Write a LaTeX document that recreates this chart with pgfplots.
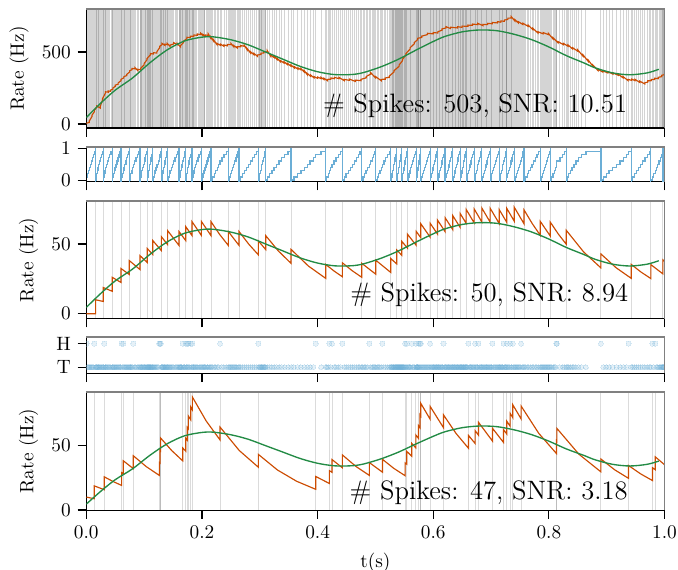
\documentclass[border=0pt]{standalone}
\usepackage{fontspec}
\usepackage{pgfplots}
\usepackage{pgfplotstable}
\pgfplotsset{compat=1.18}
\definecolor{cgreen}{RGB}{35,139,69}
\definecolor{cred}{RGB}{204,76,2}
\definecolor{cblue}{RGB}{107,174,214}
\newcommand{\annot}{\fontsize{13.8}{16}\selectfont}

% spike train: time, counter/10 (0 = output spike of the counter), coin (1 = H)
\pgfplotstableread[row sep=\\]{
t c h\\
0.0005 .1 1\\ 0.0021 .2 0\\ 0.0040 .3 0\\ 0.0052 .4 0\\ 0.0071 .5 0\\ 0.0089 .6 0\\ 0.0104 .7 0\\ 0.0122 .8 0\\ 0.0138 .9 1\\ 0.0161 0 0\\
0.0170 .1 0\\ 0.0178 .2 0\\ 0.0190 .3 0\\ 0.0204 .4 0\\ 0.0216 .5 0\\ 0.0231 .6 0\\ 0.0249 .7 0\\ 0.0262 .8 0\\ 0.0279 .9 0\\ 0.0294 0 0\\
0.0302 .1 0\\ 0.0311 .2 1\\ 0.0325 .3 0\\ 0.0338 .4 0\\ 0.0351 .5 0\\ 0.0370 .6 0\\ 0.0388 .7 0\\ 0.0401 .8 0\\ 0.0427 .9 0\\ 0.0450 0 0\\
0.0459 .1 0\\ 0.0474 .2 0\\ 0.0486 .3 0\\ 0.0497 .4 0\\ 0.0515 .5 0\\ 0.0531 .6 0\\ 0.0549 .7 0\\ 0.0566 .8 0\\ 0.0583 .9 0\\ 0.0600 0 0\\
0.0611 .1 1\\ 0.0626 .2 0\\ 0.0640 .3 1\\ 0.0652 .4 0\\ 0.0667 .5 0\\ 0.0685 .6 0\\ 0.0699 .7 0\\ 0.0713 .8 0\\ 0.0731 .9 0\\ 0.0744 0 0\\
0.0756 .1 0\\ 0.0770 .2 0\\ 0.0789 .3 0\\ 0.0801 .4 0\\ 0.0813 .5 1\\ 0.0839 .6 0\\ 0.0858 .7 0\\ 0.0880 .8 0\\ 0.0903 .9 0\\ 0.0928 0 0\\
0.0937 .1 0\\ 0.0949 .2 0\\ 0.0960 .3 0\\ 0.0974 .4 0\\ 0.0988 .5 0\\ 0.1001 .6 0\\ 0.1015 .7 0\\ 0.1029 .8 0\\ 0.1042 .9 0\\ 0.1055 0 0\\
0.1063 .1 0\\ 0.1071 .2 0\\ 0.1079 .3 0\\ 0.1088 .4 0\\ 0.1099 .5 0\\ 0.1108 .6 0\\ 0.1117 .7 0\\ 0.1128 .8 0\\ 0.1139 .9 0\\ 0.1148 0 0\\
0.1160 .1 0\\ 0.1174 .2 0\\ 0.1190 .3 0\\ 0.1206 .4 0\\ 0.1224 .5 0\\ 0.1244 .6 0\\ 0.1263 .7 1\\ 0.1275 .8 1\\ 0.1286 .9 1\\ 0.1298 0 0\\
0.1307 .1 0\\ 0.1318 .2 0\\ 0.1326 .3 0\\ 0.1337 .4 0\\ 0.1349 .5 0\\ 0.1360 .6 0\\ 0.1372 .7 0\\ 0.1384 .8 0\\ 0.1396 .9 0\\ 0.1407 0 0\\
0.1420 .1 0\\ 0.1437 .2 0\\ 0.1449 .3 0\\ 0.1468 .4 0\\ 0.1489 .5 0\\ 0.1511 .6 0\\ 0.1534 .7 0\\ 0.1559 .8 0\\ 0.1582 .9 0\\ 0.1603 0 0\\
0.1612 .1 0\\ 0.1622 .2 0\\ 0.1631 .3 0\\ 0.1643 .4 0\\ 0.1655 .5 0\\ 0.1667 .6 1\\ 0.1680 .7 0\\ 0.1693 .8 0\\ 0.1706 .9 0\\ 0.1719 0 1\\
0.1727 .1 0\\ 0.1738 .2 0\\ 0.1747 .3 1\\ 0.1756 .4 0\\ 0.1765 .5 1\\ 0.1776 .6 0\\ 0.1789 .7 0\\ 0.1805 .8 1\\ 0.1816 .9 0\\ 0.1828 0 0\\
0.1834 .1 1\\ 0.1849 .2 0\\ 0.1861 .3 0\\ 0.1877 .4 0\\ 0.1893 .5 0\\ 0.1912 .6 0\\ 0.1931 .7 0\\ 0.1950 .8 0\\ 0.1971 .9 0\\ 0.1990 0 0\\
0.2003 .1 0\\ 0.2019 .2 0\\ 0.2036 .3 0\\ 0.2051 .4 0\\ 0.2070 .5 0\\ 0.2088 .6 0\\ 0.2104 .7 0\\ 0.2122 .8 0\\ 0.2140 .9 0\\ 0.2157 0 0\\
0.2180 .1 0\\ 0.2211 .2 0\\ 0.2239 .3 0\\ 0.2268 .4 0\\ 0.2290 .5 0\\ 0.2313 .6 1\\ 0.2345 .7 0\\ 0.2381 .8 0\\ 0.2420 .9 0\\ 0.2457 0 0\\
0.2471 .1 0\\ 0.2490 .2 0\\ 0.2508 .3 0\\ 0.2525 .4 0\\ 0.2546 .5 0\\ 0.2564 .6 0\\ 0.2587 .7 0\\ 0.2606 .8 0\\ 0.2624 .9 0\\ 0.2641 0 0\\
0.2672 .1 0\\ 0.2703 .2 0\\ 0.2738 .3 0\\ 0.2771 .4 0\\ 0.2805 .5 0\\ 0.2842 .6 0\\ 0.2878 .7 0\\ 0.2910 .8 0\\ 0.2945 .9 0\\ 0.2976 0 1\\
0.2986 .1 0\\ 0.2999 .2 0\\ 0.3011 .3 0\\ 0.3024 .4 0\\ 0.3036 .5 0\\ 0.3050 .6 0\\ 0.3063 .7 0\\ 0.3078 .8 0\\ 0.3090 .9 0\\ 0.3103 0 0\\
0.3130 .1 0\\ 0.3172 .2 0\\ 0.3211 .3 0\\ 0.3248 .4 0\\ 0.3290 .5 0\\ 0.3334 .6 0\\ 0.3380 .7 0\\ 0.3433 .8 0\\ 0.3490 .9 0\\ 0.3541 0 0\\
0.3590 .1 0\\ 0.3655 .2 0\\ 0.3712 .3 0\\ 0.3770 .4 0\\ 0.3822 .5 0\\ 0.3870 .6 0\\ 0.3925 .7 0\\ 0.3968 .8 1\\ 0.4060 .9 0\\ 0.4141 0 0\\
0.4160 .1 0\\ 0.4183 .2 0\\ 0.4204 .3 1\\ 0.4228 .4 0\\ 0.4250 .5 1\\ 0.4285 .6 0\\ 0.4318 .7 0\\ 0.4356 .8 0\\ 0.4392 .9 0\\ 0.4429 0 1\\
0.4460 .1 0\\ 0.4492 .2 0\\ 0.4531 .3 0\\ 0.4567 .4 0\\ 0.4598 .5 0\\ 0.4636 .6 0\\ 0.4670 .7 0\\ 0.4702 .8 0\\ 0.4733 .9 0\\ 0.4764 0 0\\
0.4785 .1 0\\ 0.4810 .2 0\\ 0.4836 .3 0\\ 0.4864 .4 0\\ 0.4896 .5 1\\ 0.4919 .6 0\\ 0.4943 .7 0\\ 0.4965 .8 0\\ 0.4986 .9 0\\ 0.5006 0 0\\
0.5030 .1 0\\ 0.5055 .2 0\\ 0.5079 .3 0\\ 0.5100 .4 0\\ 0.5121 .5 1\\ 0.5148 .6 0\\ 0.5178 .7 0\\ 0.5207 .8 0\\ 0.5238 .9 0\\ 0.5265 0 0\\
0.5276 .1 0\\ 0.5286 .2 0\\ 0.5296 .3 0\\ 0.5307 .4 0\\ 0.5318 .5 0\\ 0.5328 .6 0\\ 0.5339 .7 0\\ 0.5349 .8 0\\ 0.5359 .9 0\\ 0.5369 0 0\\
0.5378 .1 0\\ 0.5387 .2 0\\ 0.5396 .3 0\\ 0.5404 .4 0\\ 0.5413 .5 0\\ 0.5421 .6 0\\ 0.5430 .7 0\\ 0.5439 .8 0\\ 0.5447 .9 0\\ 0.5456 0 0\\
0.5465 .1 0\\ 0.5474 .2 0\\ 0.5484 .3 0\\ 0.5494 .4 0\\ 0.5503 .5 0\\ 0.5513 .6 1\\ 0.5523 .7 0\\ 0.5532 .8 0\\ 0.5542 .9 1\\ 0.5554 0 0\\
0.5568 .1 0\\ 0.5581 .2 0\\ 0.5597 .3 0\\ 0.5612 .4 0\\ 0.5628 .5 1\\ 0.5643 .6 0\\ 0.5659 .7 0\\ 0.5678 .8 0\\ 0.5700 .9 1\\ 0.5704 0 0\\
0.5712 .1 0\\ 0.5720 .2 0\\ 0.5728 .3 0\\ 0.5736 .4 0\\ 0.5744 .5 1\\ 0.5752 .6 0\\ 0.5761 .7 0\\ 0.5770 .8 1\\ 0.5777 .9 0\\ 0.5784 0 1\\
0.5800 .1 0\\ 0.5817 .2 0\\ 0.5833 .3 0\\ 0.5851 .4 0\\ 0.5866 .5 0\\ 0.5882 .6 0\\ 0.5899 .7 0\\ 0.5914 .8 0\\ 0.5930 .9 0\\ 0.5946 0 1\\
0.5958 .1 0\\ 0.5971 .2 0\\ 0.5983 .3 0\\ 0.5996 .4 0\\ 0.6009 .5 0\\ 0.6022 .6 0\\ 0.6035 .7 0\\ 0.6048 .8 0\\ 0.6061 .9 0\\ 0.6073 0 0\\
0.6086 .1 0\\ 0.6099 .2 0\\ 0.6112 .3 0\\ 0.6125 .4 0\\ 0.6139 .5 0\\ 0.6152 .6 0\\ 0.6165 .7 0\\ 0.6177 .8 1\\ 0.6191 .9 0\\ 0.6205 0 0\\
0.6218 .1 0\\ 0.6232 .2 0\\ 0.6245 .3 0\\ 0.6258 .4 0\\ 0.6271 .5 0\\ 0.6285 .6 0\\ 0.6298 .7 0\\ 0.6312 .8 0\\ 0.6325 .9 0\\ 0.6338 0 0\\
0.6351 .1 0\\ 0.6364 .2 0\\ 0.6376 .3 0\\ 0.6389 .4 0\\ 0.6402 .5 0\\ 0.6414 .6 0\\ 0.6427 .7 0\\ 0.6440 .8 0\\ 0.6452 .9 0\\ 0.6465 0 0\\
0.6475 .1 0\\ 0.6486 .2 0\\ 0.6496 .3 0\\ 0.6507 .4 0\\ 0.6517 .5 0\\ 0.6528 .6 0\\ 0.6538 .7 0\\ 0.6549 .8 0\\ 0.6559 .9 0\\ 0.6569 0 0\\
0.6582 .1 0\\ 0.6596 .2 0\\ 0.6609 .3 1\\ 0.6623 .4 0\\ 0.6637 .5 0\\ 0.6651 .6 0\\ 0.6665 .7 0\\ 0.6679 .8 0\\ 0.6693 .9 0\\ 0.6707 0 0\\
0.6724 .1 1\\ 0.6736 .2 0\\ 0.6748 .3 0\\ 0.6760 .4 0\\ 0.6771 .5 0\\ 0.6782 .6 1\\ 0.6800 .7 0\\ 0.6813 .8 0\\ 0.6827 .9 0\\ 0.6840 0 0\\
0.6854 .1 0\\ 0.6869 .2 0\\ 0.6884 .3 0\\ 0.6899 .4 0\\ 0.6913 .5 0\\ 0.6928 .6 0\\ 0.6943 .7 0\\ 0.6957 .8 0\\ 0.6971 .9 0\\ 0.6984 0 0\\
0.7000 .1 0\\ 0.7012 .2 0\\ 0.7024 .3 1\\ 0.7040 .4 0\\ 0.7057 .5 0\\ 0.7073 .6 0\\ 0.7090 .7 0\\ 0.7107 .8 0\\ 0.7124 .9 0\\ 0.7140 0 0\\
0.7153 .1 0\\ 0.7166 .2 0\\ 0.7178 .3 0\\ 0.7191 .4 0\\ 0.7203 .5 0\\ 0.7215 .6 1\\ 0.7230 .7 0\\ 0.7243 .8 0\\ 0.7257 .9 0\\ 0.7270 0 0\\
0.7272 .1 1\\ 0.7286 .2 0\\ 0.7300 .3 0\\ 0.7315 .4 0\\ 0.7330 .5 1\\ 0.7345 .6 0\\ 0.7360 .7 0\\ 0.7376 .8 1\\ 0.7388 .9 0\\ 0.7400 0 0\\
0.7417 .1 0\\ 0.7434 .2 0\\ 0.7452 .3 0\\ 0.7469 .4 0\\ 0.7486 .5 0\\ 0.7503 .6 0\\ 0.7520 .7 1\\ 0.7537 .8 0\\ 0.7553 .9 0\\ 0.7570 0 0\\
0.7596 .1 0\\ 0.7624 .2 0\\ 0.7651 .3 0\\ 0.7680 .4 0\\ 0.7708 .5 0\\ 0.7737 .6 0\\ 0.7765 .7 0\\ 0.7793 .8 0\\ 0.7821 .9 0\\ 0.7849 0 0\\
0.7866 .1 0\\ 0.7884 .2 0\\ 0.7901 .3 0\\ 0.7919 .4 0\\ 0.7936 .5 0\\ 0.7953 .6 0\\ 0.7971 .7 0\\ 0.7988 .8 0\\ 0.8005 .9 0\\ 0.8022 0 0\\
0.8045 .1 0\\ 0.8071 .2 0\\ 0.8096 .3 0\\ 0.8115 .4 0\\ 0.8130 .5 1\\ 0.8137 .6 1\\ 0.8190 .7 0\\ 0.8240 .8 0\\ 0.8272 .9 0\\ 0.8299 0 0\\
0.8320 .1 0\\ 0.8345 .2 0\\ 0.8372 .3 0\\ 0.8401 .4 0\\ 0.8433 .5 0\\ 0.8468 .6 0\\ 0.8510 .7 0\\ 0.8560 .8 0\\ 0.8640 .9 0\\ 0.8899 0 1\\
0.8940 .1 0\\ 0.8990 .2 0\\ 0.9040 .3 0\\ 0.9100 .4 0\\ 0.9170 .5 0\\ 0.9230 .6 0\\ 0.9290 .7 0\\ 0.9340 .8 0\\ 0.9377 .9 1\\ 0.9423 0 0\\
0.9450 .1 0\\ 0.9480 .2 0\\ 0.9510 .3 0\\ 0.9545 .4 0\\ 0.9580 .5 0\\ 0.9620 .6 0\\ 0.9660 .7 0\\ 0.9700 .8 0\\ 0.9735 .9 0\\ 0.9763 0 0\\
0.9790 .1 1\\ 0.9812 .2 0\\ 0.9840 .3 1\\ 0.9862 .4 0\\ 0.9883 .5 0\\ 0.9904 .6 0\\ 0.9925 .7 0\\ 0.9944 .8 0\\ 0.9958 .9 0\\ 0.9971 0 0\\
0.9979 .1 0\\ 0.9986 .2 0\\ 0.9994 .3 0\\
}\spikes

% underlying rate (Hz/10 and Hz)
\pgfplotstableread{
t r r10
0.000 4.5 45
0.025 14.5 145
0.050 23.5 235
0.080 32 320
0.110 42.5 425
0.140 51.5 515
0.170 57.7 577
0.200 60.3 603
0.220 60.5 605
0.250 58.5 585
0.280 55 550
0.310 50 500
0.340 45 450
0.370 40 400
0.400 36.3 363
0.430 34.3 343
0.460 34.4 344
0.480 35.8 358
0.510 39.8 398
0.540 45 450
0.570 51.3 513
0.600 57.3 573
0.620 60.8 608
0.650 64 640
0.680 65.3 653
0.710 64.8 648
0.740 62.3 623
0.770 58.6 586
0.800 53.5 535
0.830 47.5 475
0.860 42.5 425
0.880 39 390
0.910 35.5 355
0.940 34.2 342
0.970 35.5 355
0.990 38 380
}\rate

\pgfplotsset{
  base/.style={
    scale only axis, width=299.6pt, xmin=0, xmax=1,
    anchor=north west,
    axis x line*=bottom, axis y line*=left,
    axis line style={line width=0.6pt, black},
    tick align=outside, major tick length=4.5pt,
    every tick/.style={black, line width=0.6pt},
    xtick={0,0.2,0.4,0.6,0.8,1},
    xticklabels={},
    clip marker paths=true,
    after end axis/.code={\draw[black!50, line width=0.9pt] (rel axis cs:0,1) -- (rel axis cs:1,1) -- (rel axis cs:1,0);},
  },
  spk/.style={only marks, mark=|, mark size=200pt, mark options={draw=black, draw opacity=#1, line width=0.45pt}},
}

\begin{document}
\begin{tikzpicture}
\useasboundingbox (-44.71pt,4.82pt) rectangle (306.56pt,-289.98pt);

% ---------- panel 1
\begin{axis}[base, at={(0pt,0pt)}, height=61.5pt, ymin=-27.8, ymax=796.5, ytick={0,500}, ylabel={Rate (Hz)}]
\addplot[spk=0.17] table[x=t,y=h]{\spikes};
\addplot[cred, line width=0.6pt] coordinates {
(0,5)
(0.005,11)(0.005,20)(0.010,53)(0.010,62)(0.014,86)(0.014,95)(0.018,116)(0.018,125)
(0.024,111)(0.024,120)(0.028,166)(0.028,175)(0.033,215)(0.033,224)(0.038,221)(0.038,230)
(0.042,227)(0.042,236)(0.046,241)(0.046,250)(0.050,261)(0.050,270)(0.055,276)(0.055,285)
(0.060,301)(0.060,310)(0.065,321)(0.065,330)(0.070,336)(0.070,345)(0.075,361)(0.075,370)
(0.079,377)(0.079,386)(0.084,383)(0.084,392)(0.089,371)(0.089,380)(0.094,377)(0.094,386)
(0.100,411)(0.100,420)(0.105,446)(0.105,455)(0.111,481)(0.111,490)(0.116,486)(0.116,495)
(0.122,493)(0.122,502)(0.127,531)(0.127,540)(0.131,551)(0.131,560)(0.136,546)(0.136,555)
(0.140,551)(0.140,560)(0.145,539)(0.145,548)(0.151,556)(0.151,565)(0.157,551)(0.157,560)
(0.163,535)(0.163,544)(0.168,566)(0.168,575)(0.174,593)(0.174,602)(0.180,601)(0.180,610)
(0.186,609)(0.186,618)(0.192,616)(0.192,625)(0.198,621)(0.198,630)(0.202,613)(0.202,622)
(0.206,609)(0.206,618)(0.211,616)(0.211,625)(0.215,597)(0.215,606)(0.220,576)(0.220,585)
(0.226,551)(0.226,560)(0.232,546)(0.232,555)(0.238,540)(0.238,549)(0.244,543)(0.244,552)
(0.250,551)(0.250,560)(0.255,536)(0.255,545)(0.261,528)(0.261,537)(0.267,536)(0.267,545)
(0.273,540)(0.273,549)(0.278,516)(0.278,525)(0.284,493)(0.284,502)(0.290,481)(0.290,490)
(0.296,470)(0.296,479)(0.302,483)(0.302,492)(0.307,493)(0.307,502)(0.313,500)(0.313,509)
(0.319,470)(0.319,479)(0.325,461)(0.325,470)(0.330,447)(0.330,456)(0.336,431)(0.336,440)
(0.342,423)(0.342,432)(0.348,412)(0.348,421)(0.354,401)(0.354,410)(0.360,389)(0.360,398)
(0.366,381)(0.366,390)(0.371,377)(0.371,386)(0.377,361)(0.377,370)(0.382,343)(0.382,352)
(0.388,331)(0.388,340)(0.394,320)(0.394,329)(0.400,317)(0.400,326)(0.406,315)(0.406,324)
(0.411,309)(0.411,318)(0.417,301)(0.417,310)(0.423,311)(0.423,320)(0.429,315)(0.429,324)
(0.437,315)(0.437,324)(0.446,301)(0.446,310)(0.455,303)(0.455,312)(0.465,296)(0.465,305)
(0.475,301)(0.475,310)(0.484,321)(0.484,330)(0.492,347)(0.492,356)(0.500,321)(0.500,330)
(0.510,301)(0.510,310)(0.517,311)(0.517,320)(0.524,324)(0.524,333)(0.532,361)(0.532,370)
(0.541,401)(0.541,410)(0.547,441)(0.547,450)(0.553,481)(0.553,490)(0.560,521)(0.560,530)
(0.567,556)(0.567,565)(0.573,586)(0.573,595)(0.580,601)(0.580,610)(0.590,621)(0.590,630)
(0.600,626)(0.600,635)(0.608,632)(0.608,641)(0.615,651)(0.615,660)(0.622,667)(0.622,676)
(0.630,663)(0.630,672)(0.642,667)(0.642,676)(0.650,671)(0.650,680)(0.660,678)(0.660,687)
(0.668,685)(0.668,694)(0.677,690)(0.677,699)(0.686,683)(0.686,692)(0.694,690)(0.694,699)
(0.702,696)(0.702,705)(0.711,702)(0.711,711)(0.717,707)(0.717,716)(0.723,713)(0.723,722)
(0.729,726)(0.729,735)(0.735,736)(0.735,745)(0.741,716)(0.741,725)(0.747,702)(0.747,711)
(0.755,691)(0.755,700)(0.764,678)(0.764,687)(0.772,656)(0.772,665)(0.781,632)(0.781,641)
(0.790,626)(0.790,635)(0.799,621)(0.799,630)(0.807,591)(0.807,600)(0.816,563)(0.816,572)
(0.825,551)(0.825,560)(0.833,540)(0.833,549)(0.841,521)(0.841,530)(0.850,505)(0.850,514)
(0.859,471)(0.859,480)(0.868,435)(0.868,444)(0.876,401)(0.876,410)(0.885,371)(0.885,380)
(0.893,361)(0.893,370)(0.902,354)(0.902,363)(0.911,346)(0.911,355)(0.920,338)(0.920,347)
(0.928,321)(0.928,330)(0.937,301)(0.937,310)(0.943,303)(0.943,312)(0.949,301)(0.949,310)
(0.957,289)(0.957,298)(0.966,278)(0.966,287)(0.971,291)(0.971,300)(0.977,301)(0.977,310)
(0.983,309)(0.983,318)(0.989,315)(0.989,324)(0.995,329)(0.995,338)(1.000,343)(1.000,352)
};
\addplot[cgreen, line width=0.7pt, smooth] table[x=t,y=r10]{\rate};
\node[anchor=base east, font=\annot] at (rel axis cs:0.947,0.128) {\# Spikes: 503, SNR: 10.51};
\end{axis}

% ---------- panel 2
\begin{axis}[base, at={(0pt,-71.19pt)}, height=18.13pt, ymin=-0.05, ymax=1.05, ytick={0,1}]
\addplot[cblue, line width=0.65pt, const plot mark left] table[x=t,y=c]{\spikes};
\addplot[only marks, mark=|, mark size=200pt, restrict y to domain=-0.01:0.01, mark options={draw=cblue, line width=0.65pt}] table[x=t,y=c]{\spikes};
\end{axis}

% ---------- panel 3
\begin{axis}[base, at={(0pt,-99.32pt)}, height=60.98pt, ymin=-3.6, ymax=80.8, ytick={0,50}, ylabel={Rate (Hz)}]
\addplot[spk=0.14, restrict y to domain=-0.01:0.01] table[x=t,y=c]{\spikes};
\addplot[cred, line width=0.6pt] coordinates {
(0,0)(0.0161,0)(0.0161,10)(0.0294,8.75)(0.0294,18.75)(0.0450,16.04)(0.0450,26.04)
(0.0600,22.41)(0.0600,32.41)(0.0744,28.06)(0.0744,38.06)(0.0928,31.66)(0.0928,41.66)
(0.1055,36.69)(0.1055,46.69)(0.1148,42.54)(0.1148,52.54)(0.1298,45.22)(0.1298,55.22)
(0.1407,49.52)(0.1407,59.52)(0.1603,48.92)(0.1603,58.92)(0.1719,52.47)(0.1719,62.47)
(0.1828,56.02)(0.1828,66.02)(0.1990,56.14)(0.1990,66.14)(0.2157,55.97)(0.2157,65.97)
(0.2307,56.78)(0.2457,48.87)(0.2457,58.87)(0.2641,48.97)(0.2641,58.97)(0.2809,49.88)
(0.2976,42.18)(0.2976,52.18)(0.3103,45.96)(0.3103,55.96)(0.3322,44.95)(0.3541,36.11)(0.3541,46.11)
(0.3841,34.16)(0.4141,25.31)(0.4141,35.31)(0.4285,30.58)(0.4429,26.47)(0.4429,36.47)
(0.4597,30.85)(0.4764,26.09)(0.4764,36.09)(0.5006,28.33)(0.5006,38.33)(0.5265,29.58)(0.5265,39.58)
(0.5369,35.67)(0.5369,45.67)(0.5456,41.87)(0.5456,51.87)(0.5554,47.02)(0.5554,57.02)
(0.5704,49.08)(0.5704,59.08)(0.5784,54.54)(0.5784,64.54)(0.5946,54.88)(0.5946,64.88)
(0.6073,57.14)(0.6073,67.14)(0.6205,58.83)(0.6205,68.83)(0.6338,60.26)(0.6338,70.26)
(0.6465,61.88)(0.6465,71.88)(0.6569,64.78)(0.6569,74.78)(0.6707,65.14)(0.6707,75.14)
(0.6840,65.78)(0.6840,75.78)(0.6984,65.62)(0.6984,75.62)(0.7140,64.70)(0.7140,74.70)
(0.7270,65.60)(0.7270,75.60)(0.7400,66.38)(0.7400,76.38)(0.7570,64.44)(0.7570,74.44)
(0.7710,64.72)(0.7849,56.31)(0.7849,66.31)(0.8022,55.77)(0.8022,65.77)(0.8161,57.23)
(0.8299,49.86)(0.8299,59.86)(0.8599,44.34)(0.8899,32.85)(0.8899,42.85)(0.9161,32.97)
(0.9423,25.37)(0.9423,35.37)(0.9593,29.84)(0.9763,25.18)(0.9763,35.18)(0.9971,28.57)(0.9971,38.57)
(1.0,37.45)
};
\addplot[cgreen, line width=0.7pt, smooth] table[x=t,y=r]{\rate};
\node[anchor=base east, font=\annot] at (rel axis cs:0.949,0.144) {\# Spikes: 50, SNR: 8.94};
\end{axis}

% ---------- panel 4
\begin{axis}[base, at={(0pt,-169.94pt)}, height=18.65pt, ymin=-0.26, ymax=1.27, ytick={0,1}, yticklabels={\textrm{T},\textrm{H}}]
\addplot[only marks, mark=*, mark size=1.3pt, color=cblue, mark options={draw=cblue, fill=cblue, line width=0pt, opacity=0.17}] table[x=t,y=h]{\spikes};
\end{axis}

% ---------- panel 5
\begin{axis}[base, at={(0pt,-198.12pt)}, height=61.45pt, ymin=-0.3, ymax=92, ytick={0,50}, ylabel={Rate (Hz)},
  xticklabels={0.0,0.2,0.4,0.6,0.8,1.0}, xlabel={t(s)}]
\addplot[spk=0.14, restrict y to domain=0.5:1.5] table[x=t,y=h]{\spikes};
\addplot[cred, line width=0.6pt] coordinates {
(0,10)(0.0138,8.71)(0.0138,18.71)(0.0311,15.74)(0.0311,25.74)(0.0461,22.16)(0.0611,19.07)(0.0611,29.07)
(0.0640,28.24)(0.0640,38.24)(0.0813,32.16)(0.0813,42.16)(0.1038,33.67)(0.1263,26.88)(0.1263,36.88)
(0.1275,36.44)(0.1275,46.44)(0.1286,45.93)(0.1286,55.93)(0.1476,46.25)(0.1667,38.21)(0.1667,48.21)
(0.1719,45.77)(0.1719,55.77)(0.1747,54.23)(0.1747,64.23)(0.1765,63.08)(0.1765,73.08)
(0.1805,70.22)(0.1805,80.22)(0.1834,77.93)(0.1834,87.93)(0.2074,69.17)(0.2313,54.46)(0.2313,64.46)
(0.2645,46.25)(0.2976,33.22)(0.2976,43.22)(0.3306,31.07)(0.3637,22.31)(0.3968,16.03)(0.3968,26.03)
(0.4204,20.56)(0.4204,30.56)(0.4250,29.19)(0.4250,39.19)(0.4429,32.77)(0.4429,42.77)(0.4663,33.85)
(0.4896,26.81)(0.4896,36.81)(0.5121,29.39)(0.5121,39.39)(0.5317,32.38)(0.5513,26.62)(0.5513,36.62)
(0.5542,35.57)(0.5542,45.57)(0.5628,41.82)(0.5628,51.82)(0.5700,48.22)(0.5700,58.22)
(0.5744,55.72)(0.5744,65.72)(0.5770,64.03)(0.5770,74.03)(0.5784,73.0)(0.5784,83.0)
(0.5946,70.58)(0.5946,80.58)(0.6177,63.96)(0.6177,73.96)(0.6393,59.59)(0.6609,48.01)(0.6609,58.01)
(0.6724,51.71)(0.6724,61.71)(0.6782,58.23)(0.6782,68.23)(0.7024,53.57)(0.7024,63.57)
(0.7215,52.51)(0.7215,62.51)(0.7272,59.05)(0.7272,69.05)(0.7330,65.15)(0.7330,75.15)
(0.7376,71.77)(0.7376,81.77)(0.7520,70.8)(0.7520,80.8)(0.7825,59.56)(0.8130,43.9)(0.8130,53.9)
(0.8137,53.5)(0.8137,63.5)(0.8518,43.38)(0.8899,29.64)(0.8899,39.64)(0.9138,31.21)
(0.9377,24.58)(0.9377,34.58)(0.9584,28.11)(0.9790,22.88)(0.9790,32.88)(0.9840,31.28)(0.9840,41.28)
(1.0,35.17)
};
\addplot[cgreen, line width=0.7pt, smooth] table[x=t,y=r]{\rate};
\node[anchor=base east, font=\annot] at (rel axis cs:0.948,0.093) {\# Spikes: 47, SNR: 3.18};
\end{axis}
\end{tikzpicture}
\end{document}
